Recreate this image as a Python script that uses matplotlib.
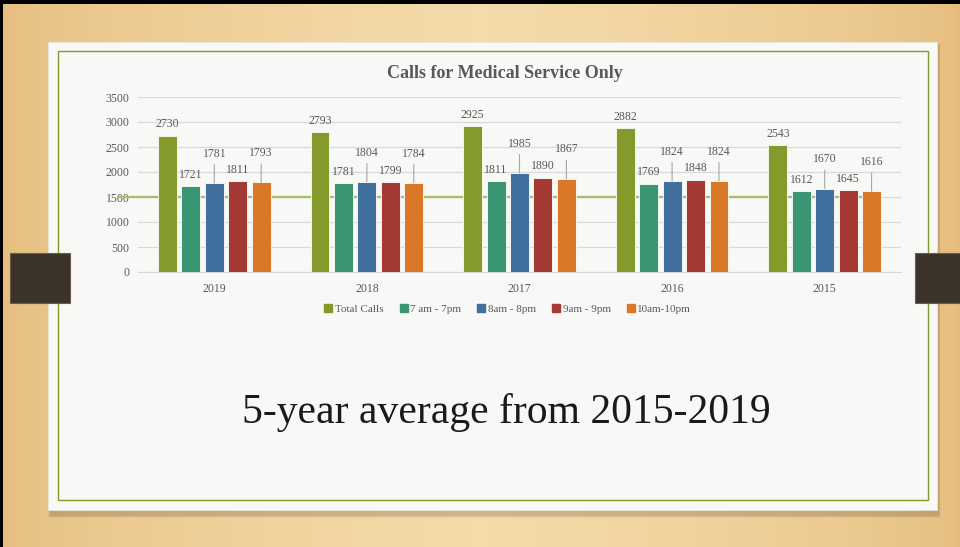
import matplotlib

matplotlib.use("Agg")
import matplotlib.pyplot as plt
import numpy as np
from matplotlib.patches import Rectangle
from matplotlib.lines import Line2D

years = ["2019", "2018", "2017", "2016", "2015"]
series_names = ["Total Calls", "7 am - 7pm", "8am - 8pm", "9am - 9pm", "10am-10pm"]
total_calls = [2730, 2793, 2925, 2882, 2543]
calls_7_7 = [1721, 1781, 1811, 1769, 1612]
calls_8_8 = [1781, 1804, 1985, 1824, 1670]
calls_9_9 = [1811, 1799, 1890, 1848, 1645]
calls_10_10 = [1793, 1784, 1867, 1824, 1616]
y_ticks = [0, 500, 1000, 1500, 2000, 2500, 3000, 3500]

COLORS = ["#849B2B", "#3A9672", "#41709E", "#A33A34", "#DA7828"]
TEXT = "#595959"
SERIF = ["Liberation Serif", "DejaVu Serif"]
W, H = 960, 547


def fx(px):
    return px / W


def fy(py):
    return 1 - py / H


def draw_slide(fig):
    bg = fig.add_axes([0, 0, 1, 1], zorder=-10)
    bg.set_axis_off()
    grad = np.linspace(0, 1, 200)
    tone = 1 - np.abs(grad - 0.5) * 2
    base = np.array([0.90, 0.74, 0.49])
    light = np.array([0.96, 0.86, 0.67])
    img = base + (light - base) * tone[None, :, None] ** 0.6
    img = np.repeat(img, 10, axis=0)
    bg.imshow(img, extent=[0, 1, 0, 1], aspect="auto", transform=bg.transAxes)
    bg.set_xlim(0, 1)
    bg.set_ylim(0, 1)

    # black frame edges
    bg.add_patch(Rectangle((0, fy(4)), 1, fy(0) - fy(4), color="black", lw=0))
    bg.add_patch(Rectangle((0, 0), fx(3), 1, color="black", lw=0))

    # card shadow and card
    for i, a in enumerate([0.06, 0.09, 0.12]):
        d = 4 - i
        bg.add_patch(Rectangle((fx(52 - d), fy(514 + d)), fx(937 - 52 + 2 * d),
                               fy(44) - fy(514 + d), color="#5A4630", alpha=a, lw=0))
    bg.add_patch(Rectangle((fx(48), fy(510)), fx(889), fy(42) - fy(510),
                           facecolor="#F8F8F6", edgecolor="#E6E6E2", lw=0.6))
    bg.add_patch(Rectangle((fx(58), fy(500)), fx(870), fy(51) - fy(500),
                           facecolor="none", edgecolor="#7F9A2A", lw=1.0))

    # binder clips
    for x0, x1 in [(10, 70), (915, 960)]:
        bg.add_patch(Rectangle((fx(x0), fy(303)), fx(x1 - x0), fy(253) - fy(303),
                               facecolor="#3B322A", edgecolor="#6E5A45", lw=0.8))


fig = plt.figure(figsize=(W / 100, H / 100), dpi=100)
draw_slide(fig)

ax = fig.add_axes([fx(138), fy(272), fx(901 - 138), fy(97) - fy(272)])
ax.set_facecolor("none")
ax.set_xlim(-0.5, 4.5)
ax.set_ylim(0, 3500)
ax.set_yticks(y_ticks)
ax.yaxis.grid(True, color="#D9D9D9", lw=0.9, zorder=0)
ax.set_axisbelow(True)
for side in ["top", "right", "left"]:
    ax.spines[side].set_visible(False)
ax.spines["bottom"].set_color("#D9D9D9")
ax.tick_params(axis="both", length=0, colors=TEXT, labelsize=8.5)
ax.tick_params(axis="y", pad=6)
ax.tick_params(axis="x", pad=8)
for lab in ax.get_yticklabels() + ax.get_xticklabels():
    lab.set_fontfamily(SERIF)

# decorative olive line across the slide at the 1500 level
ax.plot([-0.63, 4.28], [1500, 1500], color="#A8BC6A", lw=1.6, zorder=1, clip_on=False)

all_series = [total_calls, calls_7_7, calls_8_8, calls_9_9, calls_10_10]
x = np.arange(len(years))
step = 0.1536
width = 0.124
for i, (vals, name, col) in enumerate(zip(all_series, series_names, COLORS)):
    xs = x + (i - 2) * step
    ax.bar(xs, vals, width=width, color=col, edgecolor="#F4F4F0", lw=0.7,
           label=name, zorder=3)
    leader = i in (2, 4)
    for xi, v in zip(xs, vals):
        if leader:
            ax.annotate(f"{v}", (xi, v), xytext=(0, 21), textcoords="offset points",
                        ha="center", va="center", fontsize=8.5, color=TEXT,
                        family=SERIF, zorder=4,
                        arrowprops=dict(arrowstyle="-", color="#A6A6A6", lw=0.8,
                                        shrinkA=1.5, shrinkB=0, relpos=(0.5, 0)))
        else:
            ax.annotate(f"{v}", (xi, v), xytext=(0, 8), textcoords="offset points",
                        ha="center", va="center", fontsize=8.5, color=TEXT,
                        family=SERIF, zorder=4)

ax.set_xticks(x)
ax.set_xticklabels(years)

fig.text(fx(505), fy(74), "Calls for Medical Service Only", ha="center", va="center",
         fontsize=13, fontweight="bold", color=TEXT, family=SERIF)

handles = [Line2D([], [], marker="s", ls="none", color=c, markersize=6) for c in COLORS]
leg = fig.legend(handles, series_names, loc="center", bbox_to_anchor=(fx(507), fy(309)),
                 ncol=5, frameon=False, handletextpad=0.1,
                 columnspacing=1.3, handlelength=1.0,
                 prop={"family": SERIF, "size": 8})
for t in leg.get_texts():
    t.set_color(TEXT)

fig.text(fx(506), fy(413), "5-year average from 2015-2019", ha="center", va="center",
         fontsize=30, color="#1A1A1A", family=SERIF)

fig.savefig("out.png", dpi=100)
